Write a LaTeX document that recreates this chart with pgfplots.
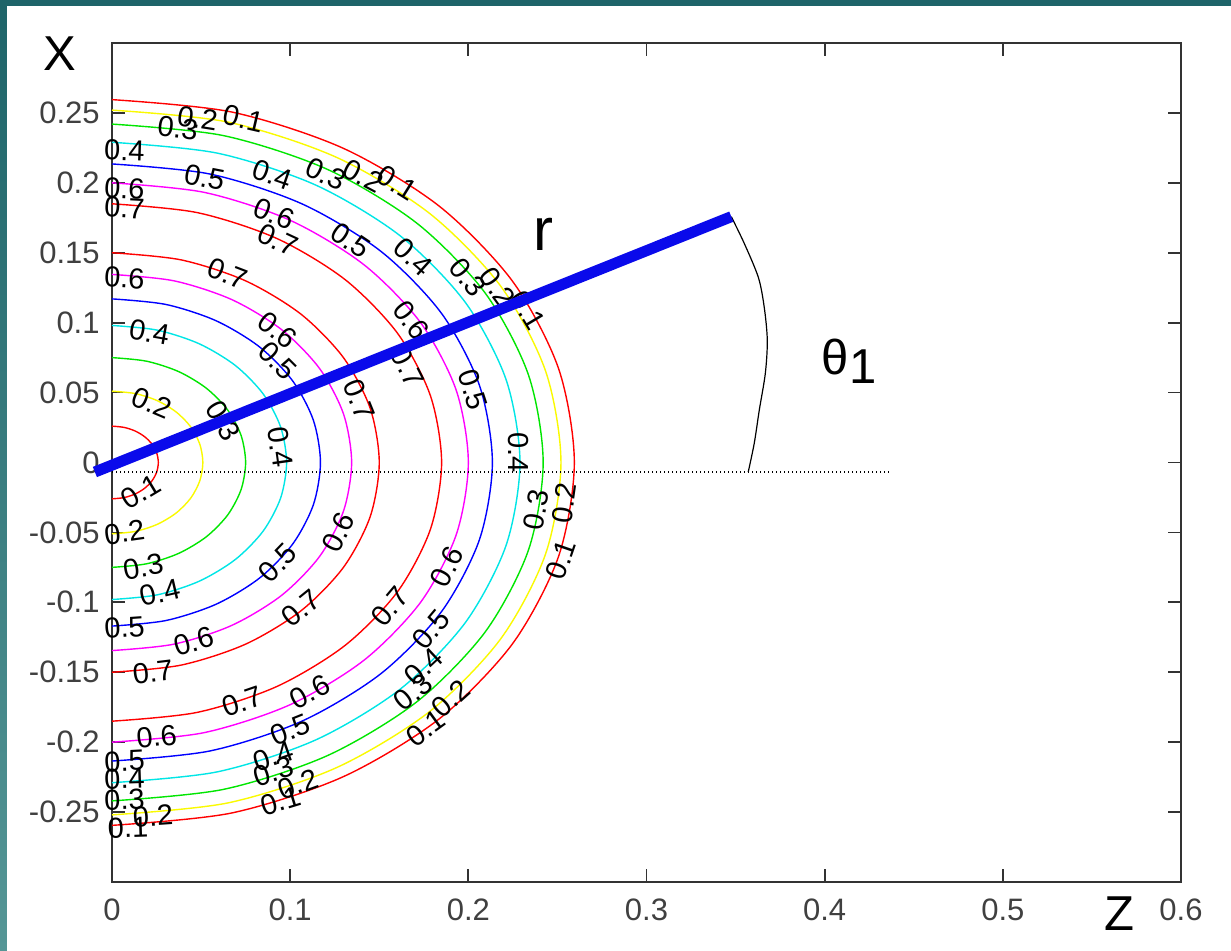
\documentclass[border=0pt]{standalone}
\usepackage{fontspec}
\setmainfont{Liberation Sans}
\usepackage{pgfplots}
\pgfplotsset{compat=1.18}
\definecolor{cred}{RGB}{255,0,0}
\definecolor{cyel}{RGB}{250,250,0}
\definecolor{cgrn}{RGB}{0,230,0}
\definecolor{ccyn}{RGB}{0,230,230}
\definecolor{cblu}{RGB}{0,0,255}
\definecolor{cmag}{RGB}{255,0,255}
\definecolor{rblue}{RGB}{10,10,235}
\definecolor{tealdark}{RGB}{30,100,105}
\definecolor{teallight}{RGB}{85,150,150}
% contour ring: colour, r, then r*sin15, r*sin30, r*sin45, r*sin60, r*sin75
\newcommand{\ring}[7]{\addplot[#1, line width=0.7pt, smooth] coordinates {(0,#2) (#3,#7) (#4,#6) (#5,#5) (#6,#4) (#7,#3) (#2,0) (#7,-#3) (#6,-#4) (#5,-#5) (#4,-#6) (#3,-#7) (0,-#2)};}
\newcommand{\cl}[4]{\node[rotate=#3, inner sep=0pt, font=\fontsize{14.5}{16}\selectfont] at (axis cs:#1,#2) {#4};}
\begin{document}
\begin{tikzpicture}
\path[use as bounding box] (-56pt,-34.5pt) rectangle (559.5pt,441pt);
\fill[tealdark] (-56pt,-34.5pt) rectangle (559.5pt,441pt);
\shade[top color=tealdark,bottom color=teallight] (-56pt,-34.5pt) rectangle (-52.5pt,441pt);
\fill[white] (-52.5pt,-34.5pt) rectangle (559.5pt,438pt);
\begin{axis}[
  at={(0pt,0pt)}, anchor=south west,
  scale only axis, width=534.5pt, height=419.5pt,
  xmin=0, xmax=0.6, ymin=-0.3, ymax=0.3,
  clip=false,
  xtick={0,0.1,0.2,0.3,0.4,0.5,0.6},
  xticklabels={0,0.1,0.2,0.3,0.4,0.5,0.6},
  ytick={-0.25,-0.2,-0.15,-0.1,-0.05,0,0.05,0.1,0.15,0.2,0.25},
  yticklabels={-0.25,-0.2,-0.15,-0.1,-0.05,0,0.05,0.1,0.15,0.2,0.25},
  tick align=inside, major tick length=6.5pt,
  tick style={black!80, line width=0.9pt},
  axis line style={black!80, line width=1pt},
  xticklabel style={font=\fontsize{15.5}{18}\selectfont, text=black!75, inner sep=0pt, anchor=north, yshift=-8pt},
  yticklabel style={font=\fontsize{15.5}{18}\selectfont, text=black!75, inner sep=0pt, anchor=east, xshift=-6pt},
]
\ring{cred}{0.026}{0.00673}{0.013}{0.01838}{0.02252}{0.02511}
\ring{cyel}{0.051}{0.0132}{0.0255}{0.03606}{0.04417}{0.04926}
\ring{cgrn}{0.075}{0.01941}{0.0375}{0.05303}{0.06495}{0.07244}
\ring{ccyn}{0.098}{0.02536}{0.049}{0.0693}{0.08487}{0.09466}
\ring{cblu}{0.117}{0.03028}{0.0585}{0.08273}{0.10132}{0.11301}
\ring{cmag}{0.1345}{0.03481}{0.06725}{0.0951}{0.11648}{0.12991}
\ring{cred}{0.150}{0.03882}{0.075}{0.10607}{0.1299}{0.14489}
\ring{cred}{0.185}{0.04788}{0.0925}{0.13081}{0.16021}{0.17869}
\ring{cmag}{0.200}{0.05176}{0.1}{0.14142}{0.1732}{0.19318}
\ring{cblu}{0.2135}{0.05525}{0.10675}{0.15097}{0.18489}{0.20622}
\ring{ccyn}{0.229}{0.05927}{0.1145}{0.16193}{0.19831}{0.22119}
\ring{cgrn}{0.242}{0.06263}{0.121}{0.17112}{0.20957}{0.23375}
\ring{cyel}{0.252}{0.06522}{0.126}{0.17819}{0.21823}{0.24341}
\ring{cred}{0.2595}{0.06716}{0.12975}{0.18349}{0.22473}{0.25065}
% theta arc
\addplot[black, line width=0.6pt, smooth] coordinates {(0.3476,0.1758) (0.3549,0.1566) (0.3628,0.1323) (0.3661,0.1109) (0.3678,0.0874) (0.3667,0.0638) (0.3633,0.0374) (0.3605,0.0139) (0.3571,-0.0068)};
% contour labels
\cl{0.048}{0.246}{-9}{0.2}
\cl{0.074}{0.246}{-13}{0.1}
\cl{0.037}{0.239}{-7}{0.3}
\cl{0.007}{0.223}{-2}{0.4}
\cl{0.052}{0.204}{-11}{0.5}
\cl{0.090}{0.206}{-19}{0.4}
\cl{0.120}{0.2065}{-25}{0.3}
\cl{0.141}{0.205}{-28}{0.2}
\cl{0.160}{0.200}{-32}{0.1}
\cl{0.007}{0.196}{-3}{0.6}
\cl{0.007}{0.182}{-3}{0.7}
\cl{0.091}{0.178}{-22}{0.6}
\cl{0.093}{0.159}{-25}{0.7}
\cl{0.134}{0.159}{-34}{0.5}
\cl{0.169}{0.147}{-42}{0.4}
\cl{0.065}{0.135}{-21}{0.7}
\cl{0.007}{0.132}{-3}{0.6}
\cl{0.1997}{0.1323}{-50}{0.3}
\cl{0.2164}{0.1252}{-54}{0.2}
\cl{0.2334}{0.1088}{-59}{0.1}
\cl{0.168}{0.102}{-52}{0.6}
\cl{0.166}{0.068}{-63}{0.7}
\cl{0.2025}{0.052}{-72}{0.5}
\cl{0.139}{0.045}{-68}{0.7}
\cl{0.228}{0.007}{-90}{0.4}
\cl{0.093}{0.0945}{-38}{0.6}
\cl{0.093}{0.073}{-45}{0.5}
\cl{0.0945}{0.011}{-82}{0.4}
\cl{0.021}{0.093}{-10}{0.4}
\cl{0.0225}{0.0424}{-23}{0.2}
\cl{0.0625}{0.030}{-59}{0.3}
\cl{0.016}{-0.021}{31}{0.1}
\cl{0.007}{-0.050}{8}{0.2}
\cl{0.0175}{-0.0745}{10}{0.3}
\cl{0.027}{-0.093}{13}{0.4}
\cl{0.093}{-0.0716}{46}{0.5}
\cl{0.127}{-0.050}{63}{0.6}
\cl{0.106}{-0.104}{39}{0.7}
\cl{0.156}{-0.103}{50}{0.7}
\cl{0.007}{-0.118}{4}{0.5}
\cl{0.046}{-0.128}{16}{0.6}
\cl{0.023}{-0.150}{7}{0.7}
\cl{0.073}{-0.171}{19}{0.7}
\cl{0.111}{-0.164}{28}{0.6}
\cl{0.025}{-0.196}{6}{0.6}
\cl{0.100}{-0.191}{22}{0.5}
\cl{0.007}{-0.2135}{3}{0.5}
\cl{0.0905}{-0.210}{19}{0.4}
\cl{0.007}{-0.226}{2}{0.4}
\cl{0.0905}{-0.221}{18}{0.3}
\cl{0.007}{-0.241}{2}{0.3}
\cl{0.1046}{-0.230}{20}{0.2}
\cl{0.0945}{-0.242}{17}{0.1}
\cl{0.023}{-0.253}{4}{0.2}
\cl{0.009}{-0.261}{2}{0.1}
\cl{0.238}{-0.034}{80}{0.3}
\cl{0.2537}{-0.029}{82}{0.2}
\cl{0.252}{-0.0695}{71}{0.1}
\cl{0.188}{-0.0745}{63}{0.6}
\cl{0.179}{-0.1195}{50}{0.5}
\cl{0.175}{-0.146}{43}{0.4}
\cl{0.169}{-0.1645}{39}{0.3}
\cl{0.19}{-0.169}{42}{0.2}
\cl{0.176}{-0.19}{36}{0.1}
% axis names and annotations
\node[anchor=base west, inner sep=0pt, font=\fontsize{24.5}{28}\selectfont] at (axis cs:-0.0388,0.280) {X};
\node[anchor=base west, inner sep=0pt, font=\fontsize{24.5}{28}\selectfont] at (axis cs:0.5568,-0.3349) {Z};
\node[anchor=base west, inner sep=0pt, font=\fontsize{30}{34}\selectfont] at (axis cs:0.2362,0.1516) {r};
\node[anchor=base west, inner sep=0pt, font=\fontsize{24.5}{28}\selectfont] at (axis cs:0.3982,0.0631) {θ\raisebox{-4.5pt}{1}};
\end{axis}
% overlay axis: dotted reference line and the thick r line drawn on top of the labels
\begin{axis}[
  at={(0pt,0pt)}, anchor=south west,
  scale only axis, width=534.5pt, height=419.5pt,
  xmin=0, xmax=0.6, ymin=-0.3, ymax=0.3,
  clip=false, hide axis,
]
\addplot[black, line width=0.6pt, dash pattern=on 0.6pt off 1.4pt] coordinates {(0,-0.0068) (0.4359,-0.0068)};
\addplot[rblue, line width=5.5pt] coordinates {(-0.0096,-0.0068) (0.3476,0.1758)};
\end{axis}
\end{tikzpicture}
\end{document}
